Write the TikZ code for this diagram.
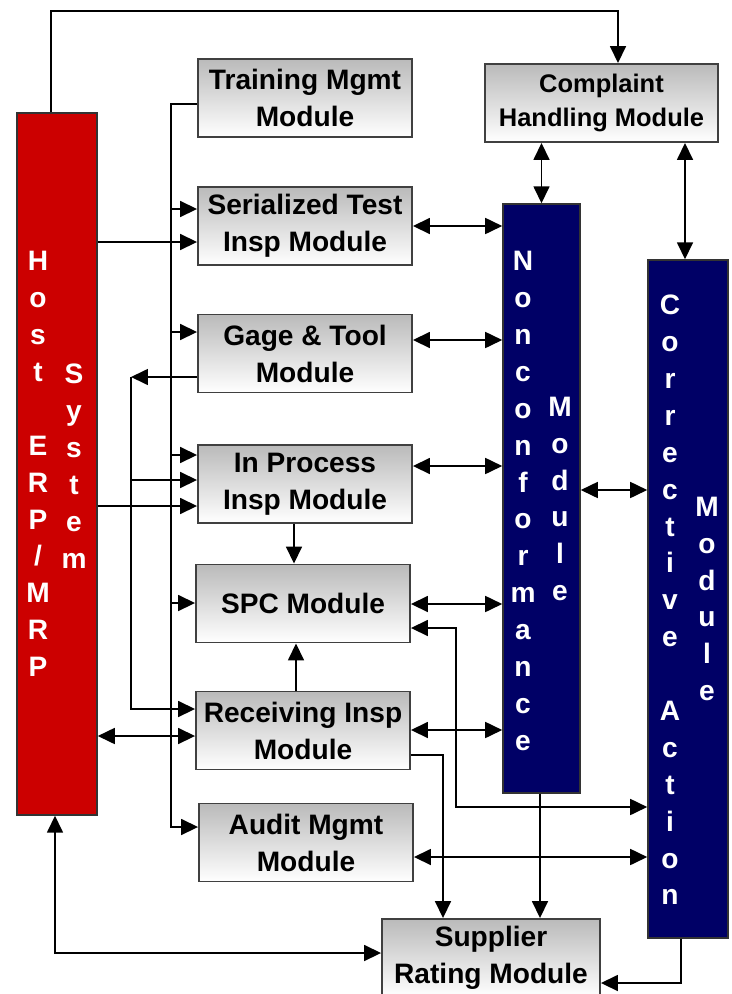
\documentclass[tikz,border=0pt]{standalone}
\usepackage{fontspec}
\setmainfont{Liberation Sans}
\usetikzlibrary{arrows.meta}
\definecolor{hostred}{RGB}{204,0,0}
\definecolor{modnavy}{RGB}{0,0,102}
\begin{document}
\begin{tikzpicture}[x=0.02cm, y=-0.02cm, >={Triangle[length=0.34cm,width=0.32cm]},
    modbox/.style={rectangle, draw=black!75, line width=1.1pt, top color=black!27, bottom color=white,
        minimum width=4.28cm, minimum height=1.56cm, inner sep=0pt, align=center,
        font=\bfseries\fontsize{16}{21}\selectfont},
    sysbar/.style={rectangle, draw=black!80, line width=0.9pt, minimum width=1.6cm, inner sep=0pt},
    vtext/.style={text=white, inner sep=0pt, align=center, font=\bfseries\fontsize{16}{21}\selectfont},
    link/.style={line width=0.95pt}]
        \useasboundingbox (0,0) rectangle (732,994);

        % Host system
        \node[sysbar, fill=hostred, minimum height=14.04cm] (host) at (57,464) {};
        \node[vtext] (hostA) at (38,464) {H\\o\\s\\t\\\strut\\E\\R\\P\\/\\M\\R\\P};
        \node[vtext] (hostB) at (74,466) {S\\y\\s\\t\\e\\m};

        % Modules
        \node[modbox] (train) at (305,98) {Training Mgmt\\Module};
        \node[modbox] (serial) at (305,226) {Serialized Test\\Insp Module};
        \node[modbox] (gage) at (305,353.5) {Gage \& Tool\\Module};
        \node[modbox] (inproc) at (305,484) {In Process\\Insp Module};
        \node[modbox] (spc) at (303,603.5) {SPC Module};
        \node[modbox] (recv) at (303,730.5) {Receiving Insp\\Module};
        \node[modbox] (audit) at (306,842.5) {Audit Mgmt\\Module};
        \node[modbox, minimum width=4.36cm] (supplier) at (491,958) {Supplier\\Rating Module};
        \node[modbox, minimum width=4.66cm, font=\bfseries\fontsize{14.5}{19.5}\selectfont] (complaint) at (601.5,103) {Complaint\\Handling Module};

        % Nonconformance and corrective action
        \node[sysbar, fill=modnavy, minimum width=1.54cm, minimum height=11.78cm] (nonconf) at (541.5,498.5) {};
        \node[vtext] (nonconfA) at (523,501) {N\\o\\n\\c\\o\\n\\f\\o\\r\\m\\a\\n\\c\\e};
        \node[vtext] (nonconfB) at (560,499) {M\\o\\d\\u\\l\\e};
        \node[sysbar, fill=modnavy, minimum height=13.56cm] (corract) at (688,599) {};
        \node[vtext] (corractA) at (670,600) {C\\o\\r\\r\\e\\c\\t\\i\\v\\e\\\strut\\A\\c\\t\\i\\o\\n};
        \node[vtext] (corractB) at (707,599) {M\\o\\d\\u\\l\\e};

        % Host connections
        \draw[link, ->] (host.north -| 51,0) -- ++(0,-101) -| (complaint.north -| 618,0);
        \draw[link, ->] (host.east |- 0,242) -- (serial.west |- 0,242);
        \draw[link, ->] (host.east |- 0,506) -- (inproc.west |- 0,506);
        \draw[link, <->] (host.east |- 0,736) -- (recv.west |- 0,736);
        \draw[link, <->] (host.south -| 55,0) |- (supplier.west |- 0,953);

        % Training bus
        \coordinate (bus) at (171,0);
        \draw[link, ->] (train.west |- 0,104) -| (bus |- 0,827) -- (audit.west |- 0,827);
        \foreach \y/\n in {209/serial, 332/gage, 455/inproc, 603/spc}
            \draw[link, ->] (bus |- 0,\y) -- (\n.west |- 0,\y);

        % Gage feedback
        \coordinate (gbus) at (131,0);
        \draw[link, ->] (gage.west |- 0,377) -- (gbus |- 0,377);
        \draw[link, ->] (gbus |- 0,377) |- (recv.west |- 0,709);
        \draw[link, ->] (gbus |- 0,480) -- (inproc.west |- 0,480);

        % SPC
        \draw[link, ->] (inproc.south -| 294,0) -- (spc.north -| 294,0);
        \draw[link, ->] (recv.north -| 296,0) -- (spc.south -| 296,0);

        % To nonconformance
        \foreach \n/\y in {serial/226, gage/340, inproc/466, spc/604, recv/730}
            \draw[link, <->] (\n.east |- 0,\y) -- (nonconf.west |- 0,\y);
        \draw[link, <->] (complaint.south -| nonconf.north) -- (nonconf.north);
        \draw[link, <->] (nonconf.east |- 0,490) -- (corract.west |- 0,490);

        % To corrective action
        \draw[link, <->] (complaint.south -| 685,0) -- (corract.north -| 685,0);
        \draw[link, <->] (spc.east |- 0,628) -| (456,807) -- (corract.west |- 0,807);
        \draw[link, <->] (audit.east |- 0,857) -- (corract.west |- 0,857);

        % Supplier rating
        \draw[link, ->] (recv.east |- 0,755) -| (supplier.north -| 443,0);
        \draw[link, ->] (nonconf.south -| 540,0) -- (supplier.north -| 540,0);
        \draw[link, ->] (corract.south -| 681,0) |- (supplier.east |- 0,983);
    \end{tikzpicture}
\end{document}
